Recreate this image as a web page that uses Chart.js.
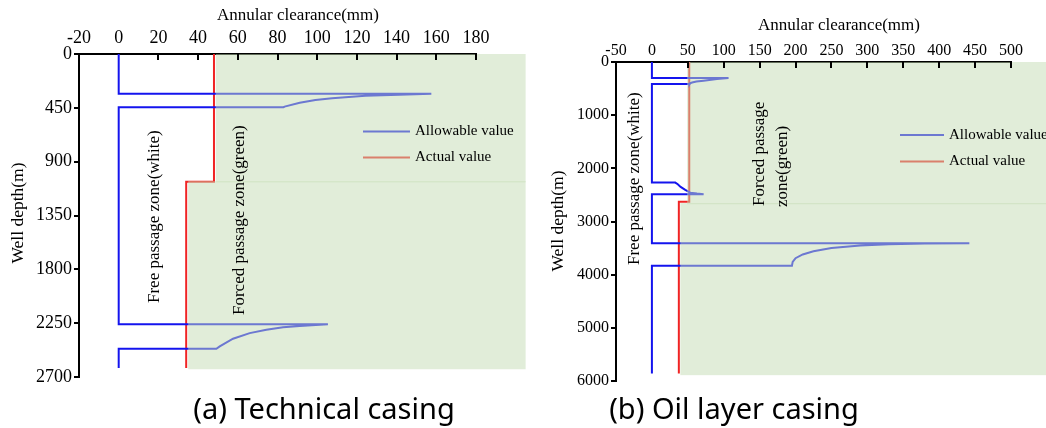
<!DOCTYPE html>
<html><head><meta charset="utf-8">
<script src="https://cdn.jsdelivr.net/npm/chart.js@4.4.1/dist/chart.umd.min.js"></script>
<style>
html,body{margin:0;padding:0;background:#fff;}
#wrap{position:relative;width:1046px;height:428px;overflow:hidden;background:#fff;}
canvas{position:absolute;top:0;}
#cA{left:0;} #cB{left:530px;}
</style></head><body>
<div id="wrap"><canvas id="cA" width="530" height="428"></canvas><canvas id="cB" width="516" height="428"></canvas></div>
<script>
// ---------- (a) Technical casing ----------
const clearanceTicksA = [-20,0,20,40,60,80,100,120,140,160,180];
const depthTicksA = [0,450,900,1350,1800,2250,2700];
const allowableA_clearance = [0,0,157.5,141.2,132.7,124.3,115.9,107.5,99.1,91.2,83.6,83,0, 0,105.4,91.2,82.8,74.4,66,57.6,50.9,49.2,0,0];
const allowableA_depth     = [0,332,332,340,345,350,359,370,384,407,440,445,445, 2260,2260,2274,2285,2305,2333,2380,2444,2464,2464,2625];
const actualA_clearance = [48,48,34,34];
const actualA_depth     = [0,1068,1068,2625];
const forcedZoneA_depth = [0,1068,2635];
const forcedZoneA_from  = [48.9,35];
const forcedZoneA_to    = 205;

// ---------- (b) Oil layer casing ----------
const clearanceTicksB = [-50,0,50,100,150,200,250,300,350,400,450,500];
const depthTicksB = [0,1000,2000,3000,4000,5000,6000];
const allowableB_clearance = [0,0,106.7,90.5,71.9,62,56,53,52.4,0, 0,32.5,36,40,46.4,53.4,62.7,72,0, 0,442,380,330,290,250,225,210,200,196,195,0,0];
const allowableB_depth     = [0,301,301,321,352,368,385,400,415,415, 2268,2268,2300,2350,2406,2457,2475,2487,2487, 3411,3411,3416,3430,3450,3500,3560,3620,3690,3760,3833,3833,5860];
const actualB_clearance = [52,52,37.5,37.5];
const actualB_depth     = [0,2627,2627,5860];
const forcedZoneB_depth = [0,2665,5890];
const forcedZoneB_from  = [49,39.6];
const forcedZoneB_to    = 560;

const seriesNames = ['Allowable value','Actual value'];
const BLUE = 'rgb(20,20,238)';
const RED = 'rgb(240,36,36)';
const SERIF = '"Liberation Serif", "Times New Roman", serif';

function pts(xs, ys){ return xs.map((x,i)=>({x:x, y:ys[i]})); }

function vtext(ctx, text, x, y, size, align){
  ctx.save(); ctx.translate(x,y); ctx.rotate(-Math.PI/2);
  ctx.font = size + 'px ' + SERIF; ctx.fillStyle = '#000';
  ctx.textAlign = align; ctx.textBaseline = 'middle';
  ctx.fillText(text,0,0); ctx.restore();
}

function decor(cfg){
  return {
    id: 'decor',
    afterDatasetsDraw(chart){
      const ctx = chart.ctx, xs = chart.scales.x, ys = chart.scales.y;
      ctx.save();
      ctx.lineWidth = 2;
      [BLUE, RED].forEach((c,i)=>{
        ctx.strokeStyle = c; ctx.beginPath();
        ctx.moveTo(cfg.legend.x0, cfg.legend.y[i]); ctx.lineTo(cfg.legend.x1, cfg.legend.y[i]); ctx.stroke();
      });
      ctx.fillStyle = 'rgba(195,219,179,0.5)';
      const n = cfg.zoneFrom.length;
      for (let i=0;i<n;i++){
        const x0 = xs.getPixelForValue(cfg.zoneFrom[i]);
        const x1 = xs.getPixelForValue(cfg.zoneTo);
        let y0 = ys.getPixelForValue(cfg.zoneDepth[i]);
        let y1 = ys.getPixelForValue(cfg.zoneDepth[i+1]);
        if (i>0) y0 -= 0.6;
        if (i<n-1) y1 += 0.6;
        ctx.fillRect(x0, y0, x1-x0, y1-y0);
      }
      ctx.restore();
    },
    afterDraw(chart){
      const ctx = chart.ctx, xs = chart.scales.x, top = chart.chartArea.top;
      ctx.save();
      ctx.strokeStyle = '#000'; ctx.lineWidth = 2;
      cfg.xTicks.forEach(v=>{
        if (v === cfg.xTicks[0] || v === 0) return;
        const px = Math.round(xs.getPixelForValue(v));
        ctx.beginPath(); ctx.moveTo(px, top); ctx.lineTo(px, top+6); ctx.stroke();
      });
      ctx.fillStyle = '#000'; ctx.font = '15px ' + SERIF; ctx.textAlign='left'; ctx.textBaseline='middle';
      seriesNames.forEach((s,i)=> ctx.fillText(s, cfg.legend.tx, cfg.legend.y[i]));
      ctx.font = '17px ' + SERIF; ctx.textAlign='center';
      ctx.fillText('Annular clearance(mm)', cfg.xTitle[0], cfg.xTitle[1]);
      ctx.font = '29px "Noto Sans", "Open Sans", sans-serif';
      ctx.fillText(cfg.caption, cfg.capPos[0], cfg.capPos[1]);
      ctx.restore();
      vtext(ctx, 'Well depth(m)', cfg.yTitle[0], cfg.yTitle[1], 17.5, 'center');
      cfg.vlabels.forEach(l=> vtext(ctx, l[0], l[1], l[2], 17, 'left'));
    }
  };
}

function makeChart(id, o){
  const ctx = document.getElementById(id).getContext('2d');
  return new Chart(ctx, {
    type: 'scatter',
    data: { datasets: [
      { label: seriesNames[0], data: pts(o.allowX, o.allowY), showLine: true, borderColor: BLUE, borderWidth: 2, pointRadius: 0, tension: 0, fill: false },
      { label: seriesNames[1], data: pts(o.actX, o.actY), showLine: true, borderColor: RED, borderWidth: 2, pointRadius: 0, tension: 0, fill: false }
    ]},
    options: {
      responsive: false, animation: false, devicePixelRatio: 1,
      layout: { padding: o.padding },
      plugins: { legend: {display:false}, tooltip: {enabled:false}, title:{display:false} },
      scales: {
        x: {
          type: 'linear', position: 'top', min: o.xTicks[0], max: o.xTicks[o.xTicks.length-1], z: 1,
          afterBuildTicks: s => { s.ticks = o.xTicks.map(v=>({value:v})); },
          afterFit: s => { s.height = o.area.top; },
          grid: { display: false, drawTicks: false, tickLength: 0 },
          border: { display: true, color: '#000', width: 2 },
          ticks: { color: '#000', padding: o.xPad, font: { family: SERIF, size: o.xFont }, maxRotation: 0, autoSkip: false, callback: v => String(v) }
        },
        y: {
          type: 'linear', reverse: true, min: o.yTicks[0], max: o.yTicks[o.yTicks.length-1], z: 1,
          afterBuildTicks: s => { s.ticks = o.yTicks.map(v=>({value:v})); },
          afterFit: s => { s.width = o.area.left; },
          grid: { display: true, drawOnChartArea: false, drawTicks: true, tickLength: 5, color: '#000', lineWidth: 2 },
          border: { display: true, color: '#000', width: 2 },
          ticks: { color: '#000', padding: 2, font: { family: SERIF, size: o.yFont }, autoSkip: false, callback: v => String(v) }
        }
      }
    },
    plugins: [decor(o.decor)]
  });
}

makeChart('cA', {
  allowX: allowableA_clearance, allowY: allowableA_depth, actX: actualA_clearance, actY: actualA_depth,
  xTicks: clearanceTicksA, yTicks: depthTicksA,
  area: { left: 79, top: 54 }, padding: { left: 0, top: 0, right: 54, bottom: 51 },
  xPad: 5, xFont: 18, yFont: 18,
  decor: {
    xTicks: clearanceTicksA, zoneDepth: forcedZoneA_depth, zoneFrom: forcedZoneA_from, zoneTo: forcedZoneA_to,
    legend: { x0: 363, x1: 410, y: [131.5, 157.5], tx: 415 },
    xTitle: [298, 16], caption: '(a) Technical casing', capPos: [324, 411],
    yTitle: [18, 213],
    vlabels: [['Free passage zone(white)', 155, 303], ['Forced passage zone(green)', 240, 315]]
  }
});

makeChart('cB', {
  allowX: allowableB_clearance, allowY: allowableB_depth, actX: actualB_clearance, actY: actualB_depth,
  xTicks: clearanceTicksB, yTicks: depthTicksB,
  area: { left: 86, top: 62 }, padding: { left: 0, top: 0, right: 35, bottom: 47 },
  xPad: 2, xFont: 16, yFont: 16,
  decor: {
    xTicks: clearanceTicksB, zoneDepth: forcedZoneB_depth, zoneFrom: forcedZoneB_from, zoneTo: forcedZoneB_to,
    legend: { x0: 370, x1: 414, y: [135, 161.5], tx: 419 },
    xTitle: [309, 26], caption: '(b) Oil layer casing', capPos: [204, 411],
    yTitle: [28, 221],
    vlabels: [['Free passage zone(white)', 105, 265], ['Forced passage', 230, 206], ['zone(green)', 253, 207]]
  }
});
</script>
</body></html>
